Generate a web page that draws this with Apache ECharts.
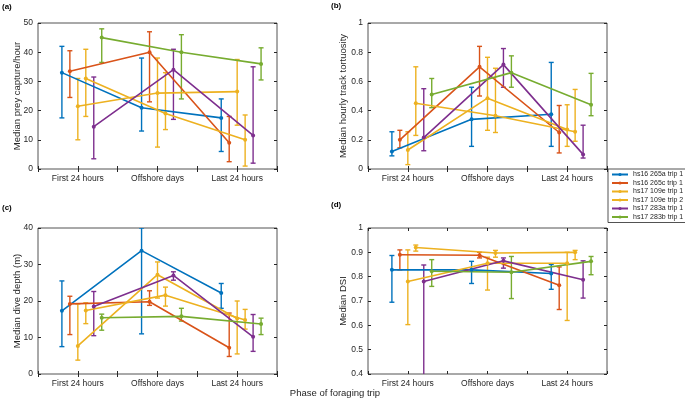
<!DOCTYPE html>
<html>
<head>
<meta charset="utf-8">
<script src="https://cdn.jsdelivr.net/npm/echarts@6/dist/echarts.min.js"></script>
<style>
html, body { margin: 0; padding: 0; background: #fff; }
#main { width: 685px; height: 406px; }
</style>
</head>
<body>
<div id="main"></div>
<script>
var categories = ['First 24 hours', 'Offshore days', 'Last 24 hours'];
var seriesNames = ['hs16 265a trip 1', 'hs16 265c trip 1', 'hs17 109e trip 1',
	'hs17 109e trip 2', 'hs17 283a trip 1', 'hs17 283b trip 1'];
var colors = ['#0072BD', '#D95319', '#EDB120', '#EDB120', '#7E2F8E', '#77AC30'];

// (a) prey capture
var preyMed = [[33, 21, 17.5], [33.5, 40, 9], [21.5, 26, 26.5], [31, 19, 10], [14.5, 34, 11.5], [45, 40, 36]];
var preyLo = [[17.5, 13, 6], [24.5, 23, 2.5], [10, 7.5, 15], [18, 13.5, 1], [3.5, 17, 2], [36.5, 24, 30.5]];
var preyHi = [[42, 38, 24], [40.5, 47, 18], [31, 38, 37.5], [41, 33, 18.5], [31.5, 41, 35], [48, 46, 41.5]];

// (b) tortuosity
var tortMed = [[0.12, 0.34, 0.375], [0.2, 0.70, 0.25], [0.13, 0.485, 0.27], [0.45, 0.365, 0.255], [0.215, 0.715, 0.10], [0.51, 0.66, 0.44]];
var tortLo = [[0.09, 0.155, 0.155], [0.145, 0.50, 0.11], [0.03, 0.265, 0.155], [0.23, 0.25, 0.19], [0.125, 0.56, 0.075], [0.42, 0.56, 0.365]];
var tortHi = [[0.255, 0.56, 0.73], [0.265, 0.84, 0.435], [0.255, 0.765, 0.44], [0.70, 0.69, 0.545], [0.55, 0.825, 0.30], [0.62, 0.775, 0.655]];

// (c) dive depth
var diveMed = [[17.3, 33.8, 22.2], [19.2, 19.8, 7.2], [7.7, 27.2, 15.2], [17.4, 21.6, 14.8], [18.5, 27, 10.2], [15.4, 15.8, 13.7]];
var diveLo = [[7.5, 11, 18], [10.8, 18.8, 4.8], [3.8, 20.8, 5.5], [13.8, 18.6, 12.3], [10.5, 25.7, 6.2], [12, 14.5, 10.8]];
var diveHi = [[25.5, 40, 24.8], [21.3, 22.8, 16.7], [19.2, 30.7, 20], [19.5, 23.8, 17.7], [22.6, 28, 16.3], [16.4, 18, 15.3]];

// (d) DSI
var dsiMed = [[0.828, 0.828, 0.813], [0.89, 0.888, 0.765], [0.78, 0.855, 0.855], [0.92, 0.897, 0.90], [0.78, 0.865, 0.787], [0.822, 0.818, 0.863]];
var dsiLo = [[0.695, 0.772, 0.748], [0.828, 0.877, 0.665], [0.603, 0.745, 0.62], [0.905, 0.88, 0.87], [0.35, 0.835, 0.712], [0.76, 0.71, 0.808]];
var dsiHi = [[0.887, 0.863, 0.85], [0.91, 0.90, 0.84], [0.91, 0.88, 0.90], [0.93, 0.908, 0.908], [0.848, 0.877, 0.865], [0.87, 0.883, 0.883]];

var panels = [
	{ label: '(a)', name: 'Median prey capture/hour', med: preyMed, lo: preyLo, hi: preyHi, min: 0, max: 50, step: 10,
		grid: { left: 38, top: 23, width: 239, height: 146 } },
	{ label: '(b)', name: 'Median hourly track tortuosity', med: tortMed, lo: tortLo, hi: tortHi, min: 0, max: 1, step: 0.2,
		grid: { left: 368, top: 23, width: 239, height: 146 } },
	{ label: '(c)', name: 'Median dive depth (m)', med: diveMed, lo: diveLo, hi: diveHi, min: 0, max: 40, step: 10,
		grid: { left: 38, top: 228, width: 239, height: 146 } },
	{ label: '(d)', name: 'Median DSI', med: dsiMed, lo: dsiLo, hi: dsiHi, min: 0.4, max: 1, step: 0.1,
		grid: { left: 368, top: 228, width: 239, height: 146 } }
];

var axisColor = '#262626';
var font = 'Liberation Sans';

var grids = [], xAxes = [], yAxes = [], series = [];

function errRender(params, api) {
	var x = api.value(0);
	var lo = api.coord([x, api.value(1)]);
	var hi = api.coord([x, api.value(2)]);
	var cap = 2.5;
	var style = { stroke: api.visual('color'), lineWidth: 1.4 };
	return {
		type: 'group',
		children: [
			{ type: 'line', shape: { x1: lo[0], y1: lo[1], x2: hi[0], y2: hi[1] }, style: style },
			{ type: 'line', shape: { x1: lo[0] - cap, y1: lo[1], x2: lo[0] + cap, y2: lo[1] }, style: style },
			{ type: 'line', shape: { x1: hi[0] - cap, y1: hi[1], x2: hi[0] + cap, y2: hi[1] }, style: style }
		]
	};
}

panels.forEach(function (p, gi) {
	grids.push({
		left: p.grid.left, top: p.grid.top, width: p.grid.width, height: p.grid.height,
		show: true, borderColor: axisColor, borderWidth: 0.8, backgroundColor: '#fff'
	});
	// bottom / left axes
	xAxes.push({
		gridIndex: gi, type: 'value', min: 0.5, max: 3.5, interval: 0.5,
		axisLine: { show: false }, splitLine: { show: false },
		axisTick: { inside: true, length: 3, lineStyle: { color: axisColor } },
		axisLabel: {
			color: axisColor, fontSize: 8.5, fontFamily: font, margin: 5,
			formatter: function (v) {
				var i = Math.round(v) - 1;
				return Math.abs(v - Math.round(v)) < 1e-6 && i >= 0 && i < 3 ? categories[i] : '';
			}
		}
	});
	// top axis ticks (box)
	xAxes.push({
		gridIndex: gi, type: 'value', position: 'top', min: 0.5, max: 3.5, interval: 0.5,
		axisLine: { show: false }, splitLine: { show: false }, axisLabel: { show: false },
		axisTick: { inside: true, length: 3, lineStyle: { color: axisColor } }
	});
	yAxes.push({
		gridIndex: gi, type: 'value', min: p.min, max: p.max, interval: p.step,
		name: p.name, nameLocation: 'middle', nameGap: p.step < 1 ? 20 : 16,
		nameMoveOverlap: false,
		nameTextStyle: { color: axisColor, fontSize: 9.5, fontFamily: font },
		axisLine: { show: false }, splitLine: { show: false },
		axisTick: { inside: true, length: 3, lineStyle: { color: axisColor } },
		axisLabel: {
			color: axisColor, fontSize: 8.5, fontFamily: font, margin: 5,
			formatter: function (v) { return String(Math.round(v * 1000) / 1000); }
		}
	});
	yAxes.push({
		gridIndex: gi, type: 'value', position: 'right', min: p.min, max: p.max, interval: p.step,
		axisLine: { show: false }, splitLine: { show: false }, axisLabel: { show: false },
		axisTick: { inside: true, length: 3, lineStyle: { color: axisColor } }
	});

	for (var s = 0; s < seriesNames.length; s++) {
		var off = (s - 2) * 0.1;
		var pts = [], bars = [];
		for (var c = 0; c < categories.length; c++) {
			pts.push([c + 1 + off, p.med[s][c]]);
			bars.push([c + 1 + off, p.lo[s][c], p.hi[s][c]]);
		}
		series.push({
			name: seriesNames[s] + ' err', type: 'custom', xAxisIndex: gi * 2, yAxisIndex: gi * 2,
			renderItem: errRender, data: bars, clip: true, silent: true,
			itemStyle: { color: colors[s] }, encode: { x: 0, y: [1, 2] }
		});
		series.push({
			name: seriesNames[s], type: 'line', xAxisIndex: gi * 2, yAxisIndex: gi * 2,
			data: pts, symbol: 'circle', symbolSize: 4, showSymbol: true,
			lineStyle: { color: colors[s], width: 1.6 }, itemStyle: { color: colors[s] },
			animation: false, silent: true
		});
	}
});

var myChart = echarts.init(document.getElementById('main'));
var option = {
	animation: false,
	backgroundColor: '#fff',
	grid: grids,
	xAxis: xAxes,
	yAxis: yAxes,
	legend: {
		data: seriesNames,
		orient: 'vertical',
		left: 608, top: 169,
		itemWidth: 16, itemHeight: 4, itemGap: 1.5,
		padding: [2, 4, 2, 3],
		borderColor: axisColor, borderWidth: 0.8, backgroundColor: '#fff',
		textStyle: { color: axisColor, fontSize: 7, fontFamily: font },
		selectedMode: false
	},
	graphic: [
		{ type: 'text', left: 2, top: 3, style: { text: '(a)', font: 'bold 8px ' + font, fill: '#000' } },
		{ type: 'text', left: 331, top: 2, style: { text: '(b)', font: 'bold 8px ' + font, fill: '#000' } },
		{ type: 'text', left: 2, top: 204, style: { text: '(c)', font: 'bold 8px ' + font, fill: '#000' } },
		{ type: 'text', left: 331, top: 201, style: { text: '(d)', font: 'bold 8px ' + font, fill: '#000' } },
		{ type: 'text', x: 335, y: 393, style: { text: 'Phase of foraging trip', font: '9.5px ' + font, fill: axisColor, textAlign: 'center', textVerticalAlign: 'middle' } }
	],
	series: series
};
myChart.setOption(option);
</script>
</body>
</html>
